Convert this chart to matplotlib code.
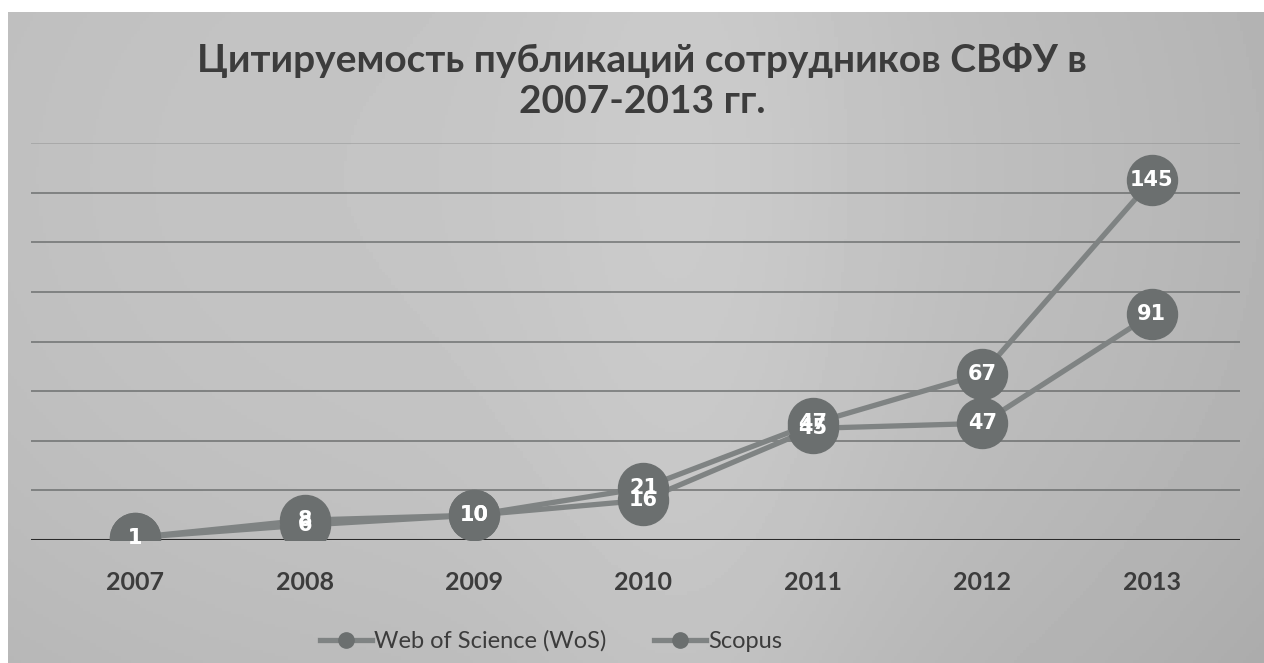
import numpy as np
import matplotlib
matplotlib.use("Agg")
import matplotlib.pyplot as plt

years = ["2007", "2008", "2009", "2010", "2011", "2012", "2013"]
wos = [1, 6, 10, 16, 45, 47, 91]
scopus = [1, 8, 10, 21, 47, 67, 145]
series_names = ["Web of Science (WoS)", "Scopus"]

TITLE = "Цитируемость публикаций сотрудников СВФУ в\n2007-2013 гг."
FONTS = ["Lato", "Open Sans", "DejaVu Sans"]

LINE_C = "#7f8383"
MARK_C = "#6b6f6f"
TEXT_C = "#3c3c3c"
GRID_C = "#5a5d5d"

plt.rcParams["font.family"] = FONTS

fig = plt.figure(figsize=(12.64, 6.63), dpi=100)
fig.patch.set_facecolor("white")

# scanned gray background with soft light patch
bg = fig.add_axes([0.006, 0.0, 0.994, 0.982])
gx = np.linspace(0, 1, 400)
gy = np.linspace(0, 1, 200)
X, Y = np.meshgrid(gx, gy)
shade = 0.77 - 0.06 * ((X - 0.35) ** 2 * 2.5 + (Y - 0.75) ** 2) + 0.03 * np.exp(-((X - 0.55) ** 2) / 0.02)
bg.imshow(shade, cmap="gray", vmin=0, vmax=1, aspect="auto", origin="lower",
          extent=[0, 1, 0, 1])
bg.set_axis_off()

ax = fig.add_axes([31 / 1264, 0.1855, (1240 - 31) / 1264, 0.7843 - 0.1855])
ax.set_facecolor("none")
x = np.arange(len(years))
ax.set_xlim(-0.614, 6.52)
ax.set_ylim(0, 160)

for yv in range(20, 161, 20):
    ax.axhline(yv, color=GRID_C, lw=1.1, alpha=0.8 if yv < 160 else 0.3, zorder=1)
ax.axhline(0, color="#2a2a2a", lw=2.2, zorder=2)

for vals, name in zip([wos, scopus], series_names):
    ax.plot(x, vals, color=LINE_C, lw=3.8, marker="o", markersize=36,
            markerfacecolor=MARK_C, markeredgecolor=MARK_C, label=name, zorder=3)

for vals in [wos, scopus]:
    for xi, v in zip(x, vals):
        ax.text(xi, v, str(v), ha="center", va="center", color="white",
                fontsize=15, fontweight="bold", family=["DejaVu Sans"], zorder=5)

for s in ax.spines.values():
    s.set_visible(False)
ax.set_yticks([])
ax.set_xticks(x)
ax.set_xticklabels(years, fontsize=18, fontweight="bold", color=TEXT_C)
ax.tick_params(axis="x", length=0, pad=22)

fig.text(0.508, 0.878, TITLE, ha="center", va="center", fontsize=28,
         fontweight="bold", color=TEXT_C, linespacing=1.2)

leg_handles = [plt.Line2D([0], [0], color=LINE_C, lw=3.8, marker="o", markersize=11,
                          markerfacecolor=MARK_C, markeredgecolor=MARK_C) for _ in series_names]
fig.legend(leg_handles, series_names, loc="center", bbox_to_anchor=(0.436, 0.033),
           ncol=2, frameon=False, fontsize=17, handlelength=2.2, columnspacing=2.0,
           handletextpad=0.1, labelcolor=TEXT_C)

fig.savefig("out.png", dpi=100, facecolor=fig.get_facecolor())
